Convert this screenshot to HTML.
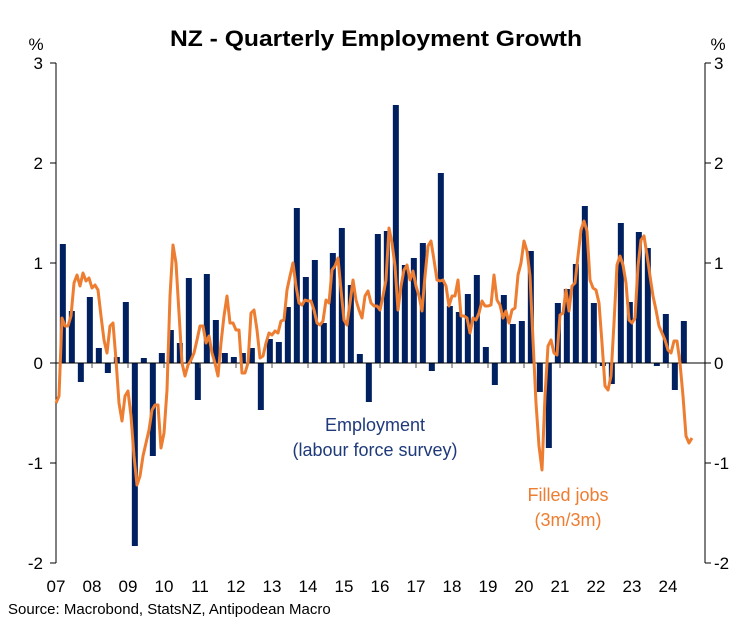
<!DOCTYPE html>
<html><head><meta charset="utf-8"><style>
html,body{margin:0;padding:0;background:#fff;}
body{width:753px;height:631px;overflow:hidden;font-family:"Liberation Sans",Arial,sans-serif;}
</style></head><body>
<svg id="chart" width="753" height="631" xmlns="http://www.w3.org/2000/svg" font-family="Liberation Sans, Arial, sans-serif">
<text x="376" y="46" text-anchor="middle" font-size="22" font-weight="bold" fill="#000" textLength="412" lengthAdjust="spacingAndGlyphs">NZ - Quarterly Employment Growth</text>
<text x="36" y="50" text-anchor="middle" font-size="17">%</text>
<text x="718" y="50" text-anchor="middle" font-size="17">%</text>
<g id="bars"></g>
<g id="axes"></g>
<path id="line" fill="none" stroke="#ED7D31" stroke-width="3" stroke-linejoin="round"/>
<text x="375" y="431" text-anchor="middle" font-size="18" fill="#1F3A7A">Employment</text>
<text x="375" y="456" text-anchor="middle" font-size="18" fill="#1F3A7A">(labour force survey)</text>
<text x="568" y="501" text-anchor="middle" font-size="18" fill="#ED7D31">Filled jobs</text>
<text x="568" y="526" text-anchor="middle" font-size="18" fill="#ED7D31">(3m/3m)</text>
<text x="8" y="614" font-size="15" fill="#000">Source: Macrobond, StatsNZ, Antipodean Macro</text>
</svg>
<script>
const yTicks=[3,2,1,0,-1,-2];
const yearLabels=["07","08","09","10","11","12","13","14","15","16","17","18","19","20","21","22","23","24"];
const employment=[1.19,0.52,-0.19,0.66,0.15,-0.10,0.06,0.61,-1.83,0.05,-0.93,0.10,0.33,0.20,0.85,-0.37,0.89,0.43,0.10,0.06,0.10,0.15,-0.47,0.24,0.21,0.56,1.55,0.86,1.03,0.40,1.10,1.35,0.78,0.09,-0.39,1.29,1.32,2.58,0.98,1.05,1.20,-0.08,1.90,0.57,0.51,0.69,0.88,0.16,-0.22,0.68,0.39,0.42,1.12,-0.29,-0.85,0.60,0.74,0.99,1.57,0.60,-0.03,-0.21,1.40,0.61,1.31,1.15,-0.03,0.49,-0.27,0.42];
const filledJobs=[-0.40,-0.33,0.45,0.37,0.37,0.47,0.80,0.88,0.77,0.90,0.82,0.85,
0.75,0.78,0.73,0.47,0.23,0.10,0.37,0.40,0.03,-0.40,-0.58,-0.33,
-0.28,-0.53,-0.93,-1.22,-1.13,-0.93,-0.80,-0.67,-0.47,-0.42,-0.42,-0.85,
-0.70,-0.27,0.67,1.18,1.00,0.50,0.00,-0.13,-0.02,0.03,0.10,0.23,
0.37,0.37,0.20,0.27,0.10,0.00,-0.13,0.20,0.47,0.67,0.40,0.40,
0.33,0.33,-0.10,-0.10,0.00,0.50,0.53,0.33,0.05,0.07,0.20,0.30,
0.28,0.32,0.30,0.42,0.43,0.73,0.87,1.00,0.77,0.60,0.58,0.63,
0.62,0.62,0.53,0.40,0.38,0.42,0.63,0.60,0.93,0.97,1.05,0.73,
0.43,0.38,0.60,0.83,0.63,0.53,0.45,0.67,0.72,0.60,0.57,0.57,
0.53,0.67,0.83,1.35,1.20,0.97,0.53,0.77,0.93,0.98,0.83,0.92,
0.77,0.67,0.52,0.87,1.17,1.22,1.03,0.83,0.82,0.83,0.77,0.57,
0.67,0.67,0.83,0.47,0.47,0.45,0.30,0.45,0.43,0.50,0.62,0.57,
0.57,0.58,0.88,0.63,0.58,0.45,0.52,0.40,0.53,0.55,0.88,1.00,
1.22,1.12,0.87,0.23,-0.40,-0.83,-1.07,-0.33,0.17,0.23,0.10,0.08,
0.48,0.50,0.73,0.52,0.77,0.80,1.07,1.33,1.42,1.32,0.83,0.75,
0.73,0.60,0.20,-0.23,-0.27,-0.13,0.40,0.98,1.07,0.98,0.80,0.43,
0.40,0.45,0.97,1.23,1.27,1.08,0.87,0.67,0.53,0.37,0.30,0.23,
0.13,0.10,0.22,0.22,0.00,-0.33,-0.73,-0.80,-0.75];
const startYear=2007;
const x0=56,pxPerYear=36,yZero=363,pxPerUnit=100,xRight=705;
function xScale(t){return x0+(t-startYear)*pxPerYear;}
function yScale(v){return yZero-v*pxPerUnit;}
const NS="http://www.w3.org/2000/svg";
const bars=document.getElementById('bars');
employment.forEach((v,i)=>{
  const t=startYear+i*0.25+0.19;
  const r=document.createElementNS(NS,'rect');
  
  
  const y1=yScale(Math.max(v,0)),y2=yScale(Math.min(v,0));
  r.setAttribute('x',xScale(t)-3);r.setAttribute('width',6);
  r.setAttribute('y',y1);r.setAttribute('height',Math.max(y2-y1,0.5));
  r.setAttribute('fill','#002060');
  bars.appendChild(r);
});
const axes=document.getElementById('axes');
function line(a,b,c,d,name,col){const l=document.createElementNS(NS,'line');
 
 
 l.setAttribute('x1',a);l.setAttribute('y1',b);l.setAttribute('x2',c);l.setAttribute('y2',d);l.setAttribute('stroke',col||'#000');l.setAttribute('stroke-width',1);axes.appendChild(l);}
function text(x,y,s,anchor,name){const t=document.createElementNS(NS,'text');
 
 
 t.setAttribute('x',x);t.setAttribute('y',y);t.setAttribute('text-anchor',anchor);t.setAttribute('font-size','17');t.textContent=s;axes.appendChild(t);}
line(x0,yScale(3),x0,yScale(-2),'left-axis');
line(xRight,yScale(3),xRight,yScale(-2),'right-axis');
line(x0,yZero,xRight,yZero,'zero-line');
yTicks.forEach(v=>{
 const y=yScale(v);
 line(x0-6,y,x0,y,'left-tick');line(xRight,y,xRight+6,y,'right-tick');
 text(43,y+6,String(v),'end','left-tick-label');
 text(714,y+6,String(v),'start','right-tick-label');
});
yearLabels.forEach((s,i)=>{
 const x=xScale(startYear+i);
 if(i>0) line(x,yZero,x,yZero+5,'x-tick','#555');
 text(x,592,s,'middle','x-tick-label');
});
const d=filledJobs.map((v,m)=>(m?'L':'M')+xScale(startYear+m/12).toFixed(1)+' '+yScale(v).toFixed(1)).join(' ');
document.getElementById('line').setAttribute('d',d);
</script>
</body></html>
